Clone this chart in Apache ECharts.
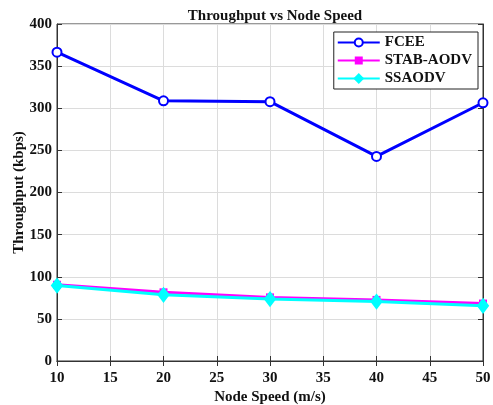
<!DOCTYPE html>
<html><head><meta charset="utf-8">
<script src="https://cdn.jsdelivr.net/npm/echarts@6/dist/echarts.min.js"></script>
<style>html,body{margin:0;padding:0;background:#fff}#c{width:493px;height:405px}</style>
</head><body><div id="c"></div>
<script>
var speeds = [10, 20, 30, 40, 50];
var fcee = [366.5, 308.8, 307.8, 242.8, 306.5];
var stab = [90.5, 81.5, 75.5, 72.5, 68.2];
var ssaodv = [89.5, 78.5, 73.5, 70.5, 65.5];
var font = "'Liberation Serif','Times New Roman',serif";
var chart = echarts.init(document.getElementById('c'));
function pts(a){return speeds.map(function(s,i){return [s,a[i]];});}
var gridLine = {show:true, lineStyle:{color:'#dcdcdc', width:1}};
chart.setOption({
  animation:false,
  title:{text:'Throughput vs Node Speed', left:270, top:4, textAlign:'center',
    textStyle:{fontFamily:font, fontWeight:'bold', fontSize:15, color:'#111'}},
  grid:{left:57, right:10, top:24, bottom:44, show:true, borderColor:'#333', borderWidth:1,
    containLabel:false, outerBoundsMode:'none'},
  legend:{orient:'vertical', right:15, top:32, backgroundColor:'#fff', borderColor:'#222', borderWidth:1,
    borderRadius:0, padding:[3,6,3,3], itemGap:3, itemWidth:42, itemHeight:10,
    textStyle:{fontFamily:font, fontWeight:'bold', fontSize:15, color:'#111'},
    data:['FCEE','STAB-AODV','SSAODV']},
  xAxis:[{type:'value', min:10, max:50, interval:5, name:'Node Speed (m/s)', nameLocation:'middle', nameGap:29,
    nameMoveOverlap:false,
    nameTextStyle:{fontFamily:font, fontWeight:'bold', fontSize:15, color:'#111'},
    axisLine:{lineStyle:{color:'#333'}}, axisTick:{inside:true, length:5, lineStyle:{color:'#333'}},
    axisLabel:{fontFamily:font, fontWeight:'bold', fontSize:15, color:'#111', margin:10},
    splitLine:gridLine},
   {type:'value', position:'top', min:10, max:50, interval:5, axisLine:{lineStyle:{color:'#333'}},
    axisTick:{inside:true, length:5, lineStyle:{color:'#333'}}, axisLabel:{show:false}, splitLine:{show:false}}],
  yAxis:[{type:'value', min:0, max:400, interval:50, name:'Throughput (kbps)', nameLocation:'middle', nameGap:30,
    nameMoveOverlap:false,
    nameTextStyle:{fontFamily:font, fontWeight:'bold', fontSize:15, color:'#111'},
    axisLine:{show:true, lineStyle:{color:'#333'}}, axisTick:{show:true, inside:true, length:5, lineStyle:{color:'#333'}},
    axisLabel:{fontFamily:font, fontWeight:'bold', fontSize:15, color:'#111', margin:5},
    splitLine:gridLine},
   {type:'value', position:'right', min:0, max:400, interval:50, axisLine:{show:true, lineStyle:{color:'#333'}},
    axisTick:{show:true, inside:true, length:5, lineStyle:{color:'#333'}}, axisLabel:{show:false}, splitLine:{show:false}}],
  series:[
    {name:'FCEE', type:'line', data:pts(fcee), symbol:'emptyCircle', symbolSize:9, z:5,
      lineStyle:{color:'#0000ff', width:3}, itemStyle:{color:'#0000ff', borderWidth:2.5}},
    {name:'STAB-AODV', type:'line', data:pts(stab), symbol:'rect', symbolSize:8, z:3,
      lineStyle:{color:'#ff00ff', width:3}, itemStyle:{color:'#ff00ff'}},
    {name:'SSAODV', type:'line', data:pts(ssaodv), symbol:'diamond', symbolSize:[10,13], z:4,
      lineStyle:{color:'#00ffff', width:3}, itemStyle:{color:'#00ffff', borderColor:'#00ffff', borderWidth:2}}
  ]
});
</script></body></html>
